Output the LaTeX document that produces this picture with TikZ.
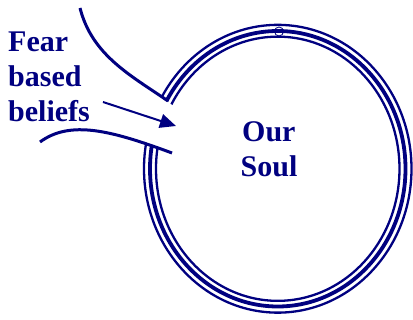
\documentclass[tikz,border=0pt]{standalone}
\usepackage{fontspec}
\setmainfont{Liberation Serif}
\usetikzlibrary{arrows.meta}
\definecolor{navy}{RGB}{0,0,128}
\tikzset{
  lbl/.style={font=\fontsize{30}{35}\selectfont\bfseries, text=navy, inner sep=0pt},
  thinring/.style={draw=navy, line width=2.3pt},
  thickring/.style={draw=navy, line width=3.8pt},
  curveline/.style={draw=navy, line width=3pt},
  arrowline/.style={draw=navy, line width=2pt, -{Triangle[length=16pt,width=14pt]}}
}
\begin{document}
\begin{tikzpicture}[x=1pt,y=-1pt]
\useasboundingbox (0,0) rectangle (413,320);
% rings with an opening on the left
\begin{scope}
  \clip (0,0) -- (413,0) -- (413,320) -- (0,320) -- (0,150) -- (140,140.7) -- (190,158.9) -- (190,116.9) -- (140,83) -- (0,75) -- cycle;
  \draw[thinring] (277.75,168.75) ellipse [x radius=133.75, y radius=143.9];
  \draw[thickring] (277.75,168.75) ellipse [x radius=127.75, y radius=137.75];
  \draw[thinring] (277.75,168.75) ellipse [x radius=121.75, y radius=132.1];
\end{scope}
% small mark at top
\draw[navy, line width=0.8pt] (279,31.5) circle (4.5);
% coordinates for the curves and arrow
\coordinate (u0) at (80,8);
\coordinate (u1) at (168,101);
\coordinate (l0) at (40,142);
\coordinate (l1) at (172,153);
\coordinate (a0) at (103,102);
\coordinate (a1) at (176,126);
\draw[curveline] (u0) .. controls (92,55) and (130,75) .. (u1);
\draw[curveline] (l0) .. controls (70,120) and (110,130) .. (l1);
\draw[arrowline] (a0) -- (a1);
% labels
\node[lbl, anchor=base west] (fear) at (8,52) {Fear};
\node[lbl, anchor=base west] (based) at (8,87) {based};
\node[lbl, anchor=base west] (beliefs) at (8,122) {beliefs};
\node[lbl, anchor=base west] (our) at (242,142) {Our};
\node[lbl, anchor=base west] (soul) at (240.5,177) {Soul};
\end{tikzpicture}
\end{document}
